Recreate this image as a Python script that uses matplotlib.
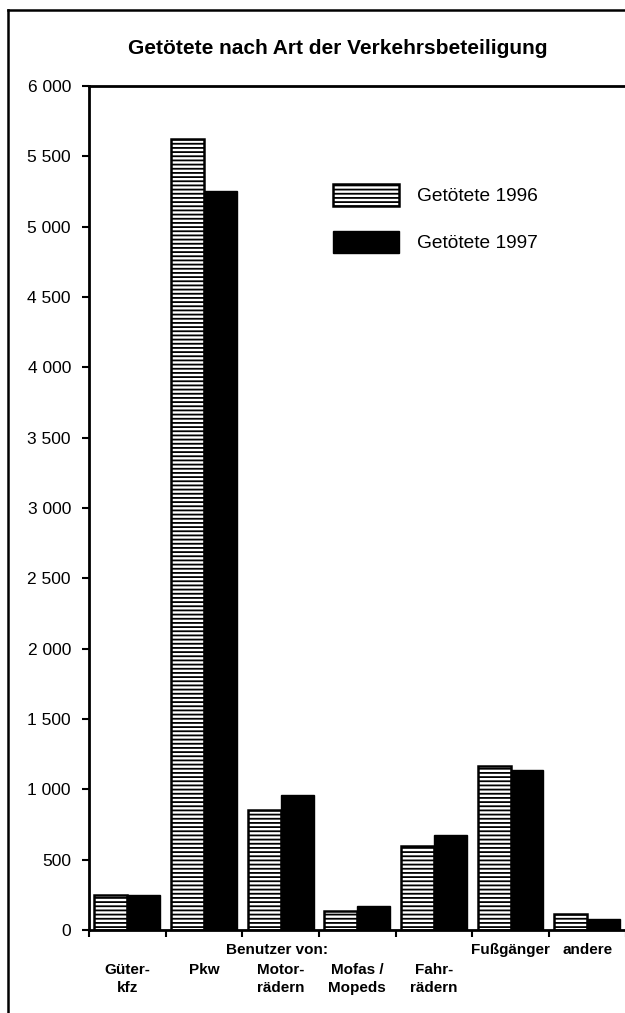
import matplotlib
matplotlib.use('Agg')
import matplotlib.pyplot as plt
import matplotlib.transforms as mtransforms
from matplotlib.lines import Line2D
from matplotlib.ticker import FuncFormatter, MultipleLocator
import numpy as np

# data
categories = ['Güter-\nkfz', 'Pkw', 'Motor-\nrädern', 'Mofas /\nMopeds', 'Fahr-\nrädern', 'Fußgänger', 'andere']
killed_1996 = [248, 5622, 855, 135, 595, 1165, 113]
killed_1997 = [247, 5251, 962, 170, 677, 1135, 78]
series_labels = ['Getötete 1996', 'Getötete 1997']
title = 'Getötete nach Art der Verkehrsbeteiligung'
group_label = 'Benutzer von:'

plt.rcParams['font.family'] = ['Liberation Sans', 'DejaVu Sans']
plt.rcParams['hatch.linewidth'] = 1.3
plt.rcParams['hatch.color'] = 'black'

W, H = 625, 1013
fig = plt.figure(figsize=(W / 100, H / 100), dpi=100)

def fx(px):
  return px / W

def fy(py):
  return 1 - py / H

ax = fig.add_axes([fx(89), fy(930), fx(625.5) - fx(89), fy(86) - fy(930)])

x = np.arange(len(categories))
bw = 0.43
b96 = ax.bar(x - bw / 2, killed_1996, bw, color='white', edgecolor='black',
             hatch='----', linewidth=1.8, label=series_labels[0])
b97 = ax.bar(x + bw / 2, killed_1997, bw, color='black', edgecolor='black',
             linewidth=1.0, label=series_labels[1])

ax.set_xlim(-0.5, len(categories) - 0.5)
ax.set_ylim(0, 6000)
ax.yaxis.set_major_locator(MultipleLocator(500))
ax.yaxis.set_major_formatter(FuncFormatter(lambda v, p: '{:,}'.format(int(v)).replace(',', ' ')))
ax.tick_params(axis='y', direction='out', length=5, width=1.5, pad=8, labelsize=12.5)

# ticks between categories, labels placed by hand
ax.set_xticks(np.arange(-0.5, len(categories) - 0.4, 1.0))
ax.set_xticklabels([])
ax.tick_params(axis='x', direction='out', length=5, width=1.5)

for s in ['left', 'bottom', 'top']:
  ax.spines[s].set_linewidth(2.0)
ax.spines['right'].set_visible(False)

lab_size = 11
trans = mtransforms.blended_transform_factory(ax.transData, fig.transFigure)
for i, c in enumerate(categories):
  if '\n' in c:
    top, bot = c.split('\n')
    ax.text(i, fy(970), top, transform=trans, ha='center', va='center',
            fontsize=lab_size, fontweight='bold')
    ax.text(i, fy(988), bot, transform=trans, ha='center', va='center',
            fontsize=lab_size, fontweight='bold')
  else:
    yy = 970 if c == 'Pkw' else 950
    ax.text(i, fy(yy), c, transform=trans, ha='center', va='center',
            fontsize=lab_size, fontweight='bold')
ax.text(1.95, fy(950), group_label, transform=trans, ha='center', va='center',
        fontsize=lab_size, fontweight='bold')

fig.text(fx(338), fy(48), title, ha='center', va='center', fontsize=15, fontweight='bold')

ax.legend(handles=[b96, b97], loc='upper left', bbox_to_anchor=(fx(333), fy(184)),
          bbox_transform=fig.transFigure, frameon=False, fontsize=13.8,
          borderpad=0, borderaxespad=0, handlelength=3.45, handleheight=1.4,
          labelspacing=1.3, handletextpad=0.94)

# outer frame of the scanned figure
fig.add_artist(Line2D([fx(8), fx(8)], [0, fy(10)], color='black', lw=1.8))
fig.add_artist(Line2D([fx(8), 1], [fy(10), fy(10)], color='black', lw=1.8))

fig.savefig('out.png', dpi=100)
